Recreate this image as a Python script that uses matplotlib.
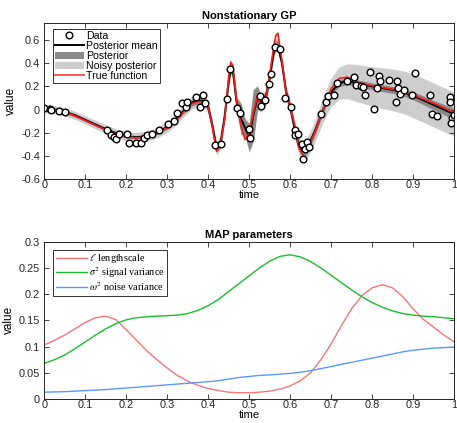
import numpy as np
import matplotlib
matplotlib.use("Agg")
import matplotlib.pyplot as plt
from matplotlib.patches import Patch
from matplotlib.lines import Line2D

plt.rcParams['font.family'] = ['Liberation Sans', 'DejaVu Sans']
plt.rcParams['mathtext.fontset'] = 'stix'

# ---------------- data: top panel ----------------
data_t = [0.0, 0.014, 0.016, 0.037, 0.051, 0.154, 0.163, 0.169, 0.175, 0.182,
          0.201, 0.206, 0.223, 0.236, 0.244, 0.251, 0.263, 0.281, 0.302, 0.316,
          0.324, 0.336, 0.346, 0.348, 0.370, 0.381, 0.387, 0.393, 0.417, 0.430,
          0.446, 0.453, 0.470, 0.477, 0.499, 0.501, 0.526, 0.529, 0.538, 0.549,
          0.552, 0.562, 0.575, 0.587, 0.601, 0.611, 0.612, 0.619, 0.628, 0.631,
          0.635, 0.641, 0.646, 0.676, 0.688, 0.692, 0.707, 0.715, 0.738, 0.756,
          0.760, 0.772, 0.778, 0.782, 0.795, 0.804, 0.813, 0.817, 0.819, 0.840,
          0.858, 0.860, 0.863, 0.868, 0.878, 0.897, 0.905, 0.941, 0.947, 0.958,
          0.990, 0.990, 0.996, 0.993, 1.000]
data_v = [0.015, 0.007, -0.008, -0.016, -0.022, -0.180, -0.222, -0.237, -0.257, -0.214,
          -0.214, -0.288, -0.288, -0.288, -0.242, -0.222, -0.214, -0.173, -0.122, -0.099,
          -0.027, 0.058, 0.021, 0.064, 0.106, 0.025, 0.127, 0.058, -0.308, -0.300,
          0.093, 0.350, 0.015, -0.031, -0.165, -0.242, 0.121, 0.027, 0.085, 0.221,
          0.307, 0.544, 0.522, 0.098, 0.021, -0.179, -0.222, -0.214, -0.294, -0.428,
          -0.345, -0.280, -0.323, -0.042, 0.061, 0.115, 0.127, 0.230, 0.250, 0.278,
          0.213, 0.201, 0.193, 0.127, 0.321, 0.001, 0.184, 0.293, 0.244, 0.258,
          0.064, 0.244, 0.184, 0.130, 0.170, 0.127, 0.316, 0.127, -0.036, -0.056,
          0.112, 0.069, -0.074, -0.117, -0.045]

grid_t = [0.0, 0.025, 0.05, 0.075, 0.1, 0.125, 0.15, 0.175, 0.2, 0.225,
          0.25, 0.275, 0.3, 0.32, 0.34, 0.36, 0.375, 0.39, 0.4, 0.41,
          0.42, 0.43, 0.44, 0.45, 0.455, 0.46, 0.47, 0.48, 0.49, 0.5,
          0.51, 0.52, 0.53, 0.54, 0.55, 0.56, 0.565, 0.57, 0.58, 0.59,
          0.6, 0.61, 0.62, 0.63, 0.64, 0.65, 0.66, 0.68, 0.7, 0.72,
          0.74, 0.76, 0.78, 0.8, 0.825, 0.85, 0.875, 0.9, 0.925, 0.95,
          0.975, 1.0]
true_f = [0.01, 0.0, -0.02, -0.055, -0.095, -0.135, -0.175, -0.21, -0.235, -0.245,
          -0.235, -0.205, -0.155, -0.10, -0.02, 0.05, 0.07, 0.065, 0.02, -0.15,
          -0.36, -0.30, -0.08, 0.28, 0.41, 0.38, 0.05, -0.14, -0.26, -0.20,
          -0.03, 0.12, 0.01, 0.08, 0.30, 0.55, 0.64, 0.66, 0.42, 0.15,
          0.02, -0.12, -0.32, -0.39, -0.35, -0.28, -0.20, 0.0, 0.18, 0.27,
          0.28, 0.24, 0.22, 0.205, 0.19, 0.175, 0.155, 0.125, 0.09, 0.055,
          0.015, -0.025]
post_mean = [0.01, 0.0, -0.02, -0.05, -0.09, -0.13, -0.17, -0.205, -0.23, -0.24,
             -0.23, -0.20, -0.15, -0.09, -0.01, 0.06, 0.08, 0.07, 0.02, -0.14,
             -0.33, -0.29, -0.06, 0.25, 0.35, 0.34, 0.04, -0.08, -0.16, -0.24,
             -0.05, 0.10, 0.055, 0.10, 0.28, 0.50, 0.56, 0.55, 0.40, 0.15,
             0.02, -0.15, -0.30, -0.36, -0.34, -0.27, -0.19, 0.0, 0.15, 0.23,
             0.245, 0.23, 0.215, 0.20, 0.185, 0.17, 0.15, 0.12, 0.08, 0.04,
             0.0, -0.04]
post_sd = [0.015, 0.015, 0.015, 0.015, 0.015, 0.015, 0.015, 0.015, 0.015, 0.015,
           0.015, 0.017, 0.02, 0.02, 0.025, 0.03, 0.03, 0.03, 0.03, 0.035,
           0.04, 0.04, 0.04, 0.04, 0.04, 0.045, 0.06, 0.13, 0.07, 0.12,
           0.22, 0.10, 0.06, 0.05, 0.04, 0.04, 0.04, 0.04, 0.04, 0.04,
           0.04, 0.045, 0.05, 0.05, 0.05, 0.045, 0.04, 0.035, 0.03, 0.03,
           0.03, 0.03, 0.03, 0.03, 0.03, 0.03, 0.032, 0.035, 0.038, 0.04,
           0.045, 0.05]
noisy_sd = [0.035, 0.035, 0.035, 0.035, 0.035, 0.037, 0.038, 0.04, 0.04, 0.042,
            0.044, 0.046, 0.048, 0.05, 0.052, 0.055, 0.055, 0.055, 0.055, 0.055,
            0.06, 0.06, 0.06, 0.06, 0.06, 0.065, 0.075, 0.14, 0.085, 0.13,
            0.23, 0.11, 0.075, 0.065, 0.06, 0.06, 0.06, 0.06, 0.06, 0.065,
            0.065, 0.07, 0.075, 0.08, 0.085, 0.09, 0.095, 0.11, 0.125, 0.14,
            0.15, 0.16, 0.165, 0.17, 0.175, 0.18, 0.185, 0.19, 0.19, 0.19,
            0.19, 0.19]

# ---------------- data: bottom panel ----------------
param_t = [0.0, 0.025, 0.05, 0.075, 0.1, 0.125, 0.15, 0.175, 0.2, 0.225,
           0.25, 0.275, 0.3, 0.325, 0.35, 0.375, 0.4, 0.425, 0.45, 0.475,
           0.5, 0.525, 0.55, 0.575, 0.6, 0.625, 0.65, 0.675, 0.7, 0.725,
           0.75, 0.775, 0.8, 0.825, 0.85, 0.875, 0.9, 0.925, 0.95, 0.975, 1.0]
lengthscale = [0.103, 0.112, 0.122, 0.134, 0.146, 0.155, 0.158, 0.151, 0.132, 0.112,
               0.092, 0.075, 0.059, 0.045, 0.034, 0.026, 0.020, 0.016, 0.013, 0.012,
               0.012, 0.013, 0.015, 0.019, 0.025, 0.035, 0.050, 0.075, 0.105, 0.140,
               0.172, 0.197, 0.212, 0.218, 0.212, 0.195, 0.172, 0.152, 0.137, 0.122, 0.109]
signal_var = [0.068, 0.075, 0.084, 0.096, 0.109, 0.122, 0.134, 0.144, 0.151, 0.155,
              0.157, 0.158, 0.159, 0.160, 0.163, 0.169, 0.178, 0.190, 0.205, 0.220,
              0.235, 0.250, 0.263, 0.272, 0.275, 0.271, 0.262, 0.250, 0.236, 0.222,
              0.208, 0.195, 0.184, 0.175, 0.168, 0.163, 0.160, 0.158, 0.157, 0.155, 0.153]
noise_var = [0.013, 0.0135, 0.014, 0.015, 0.016, 0.017, 0.018, 0.0195, 0.021, 0.0225,
             0.024, 0.0255, 0.027, 0.0285, 0.030, 0.0315, 0.033, 0.035, 0.038, 0.041,
             0.043, 0.045, 0.046, 0.0475, 0.049, 0.051, 0.054, 0.058, 0.062, 0.066,
             0.070, 0.074, 0.078, 0.082, 0.086, 0.090, 0.093, 0.095, 0.097, 0.098, 0.099]

# ---------------- figure ----------------
fig = plt.figure(figsize=(4.57, 4.23), dpi=100)
ax1 = fig.add_axes([0.097, 0.5768, 0.8966, 0.3695])
ax2 = fig.add_axes([0.097, 0.0567, 0.8966, 0.3719])

gt = np.array(grid_t)
mu = np.array(post_mean)
ps = np.array(post_sd)
ns = np.array(noisy_sd)

c_noisy = '#cdcdcd'
c_post = '#8a8a8a'
ax1.fill_between(gt, mu - ns, mu + ns, color=c_noisy, lw=0)
ax1.fill_between(gt, mu - ps, mu + ps, color=c_post, lw=0)
ax1.plot(gt, post_mean, color='black', lw=1.4)
ax1.plot(gt, true_f, color='#ff1a1a', lw=1.2)
ax1.plot(data_t, data_v, 'o', ms=4.8, mfc='white', mec='black', mew=1.0)

ax1.set_xlim(0, 1)
ax1.set_ylim(-0.6, 0.75)
ax1.set_xticks(np.arange(0, 1.01, 0.1))
ax1.set_xticklabels(['0', '0.1', '0.2', '0.3', '0.4', '0.5', '0.6', '0.7', '0.8', '0.9', '1'])
ax1.set_yticks([-0.6, -0.4, -0.2, 0, 0.2, 0.4, 0.6])
ax1.set_yticklabels(['-0.6', '-0.4', '-0.2', '0', '0.2', '0.4', '0.6'])
ax1.set_title('Nonstationary GP', fontsize=8, fontweight='bold', pad=3)
ax1.set_xlabel('time', fontsize=8, labelpad=0)
ax1.set_ylabel('value', fontsize=8.5, labelpad=3)

handles = [
    Line2D([], [], ls='none', marker='o', ms=4.8, mfc='white', mec='black', mew=1.0),
    Line2D([], [], color='black', lw=1.4),
    Patch(color=c_post, lw=0),
    Patch(color=c_noisy, lw=0),
    Line2D([], [], color='#ff5555', lw=1.4),
]
labels = ['Data', 'Posterior mean', 'Posterior', 'Noisy posterior', 'True function']
leg1 = ax1.legend(handles, labels, loc='upper left', bbox_to_anchor=(0.021, 0.96),
                  fontsize=7.6, frameon=True, fancybox=False, edgecolor='black',
                  borderpad=0.2, labelspacing=0.0, handlelength=2.7,
                  handletextpad=0.25, borderaxespad=0.0, handleheight=0.75)
leg1.get_frame().set_linewidth(0.7)

pt = np.array(param_t)
ax2.plot(pt, lengthscale, color='#f47676', lw=1.0, label=r'$\ell$ lengthscale')
ax2.plot(pt, signal_var, color='#19be2c', lw=1.0, label=r'$\sigma^2$ signal variance')
ax2.plot(pt, noise_var, color='#5c96ff', lw=1.0, label=r'$\omega^2$ noise variance')
ax2.set_xlim(0, 1)
ax2.set_ylim(0, 0.3)
ax2.set_xticks(np.arange(0, 1.01, 0.1))
ax2.set_xticklabels(['0', '0.1', '0.2', '0.3', '0.4', '0.5', '0.6', '0.7', '0.8', '0.9', '1'])
ax2.set_yticks([0, 0.05, 0.1, 0.15, 0.2, 0.25, 0.3])
ax2.set_yticklabels(['0', '0.05', '0.1', '0.15', '0.2', '0.25', '0.3'])
ax2.set_title('MAP parameters', fontsize=8, fontweight='bold', pad=3)
ax2.set_xlabel('time', fontsize=8, labelpad=0)
ax2.set_ylabel('value', fontsize=8.5, labelpad=3)
leg2 = ax2.legend(loc='upper left', bbox_to_anchor=(0.022, 0.95),
                  prop={'family': 'Liberation Serif', 'size': 7.4}, frameon=True,
                  fancybox=False, edgecolor='black', borderpad=0.25,
                  labelspacing=0.0, handlelength=3.0, handletextpad=0.2,
                  borderaxespad=0.0)
leg2.get_frame().set_linewidth(0.7)

for ax in (ax1, ax2):
    ax.tick_params(direction='in', top=True, right=True, length=3.5, width=0.6,
                   labelsize=7.9, colors='#262626')
    ax.tick_params(axis='x', pad=1)
    ax.tick_params(axis='y', pad=3)
    for s in ax.spines.values():
        s.set_linewidth(0.7)
        s.set_color('#262626')

fig.savefig('out.png', dpi=100)
